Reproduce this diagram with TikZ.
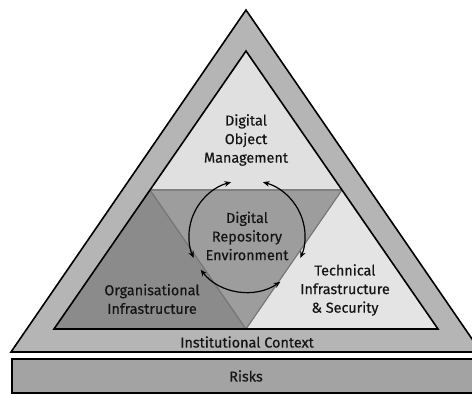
\documentclass[tikz,border=0pt]{standalone}
\usepackage{fontspec}
\setmainfont{Fira Sans}[UprightFeatures={FakeBold=0.35}]
\usetikzlibrary{arrows.meta}
\definecolor{bandgrey}{HTML}{B5B5B5}
\definecolor{topgrey}{HTML}{E0E0E0}
\definecolor{midgrey}{HTML}{9D9D9D}
\definecolor{leftgrey}{HTML}{8B8B8B}
\definecolor{rightgrey}{HTML}{E4E4E4}
\definecolor{riskgrey}{HTML}{A3A3A3}
\definecolor{inkgrey}{HTML}{141414}
\tikzstyle{outline} = [draw=black, line width=1.6pt, line join=miter]
\tikzstyle{seam} = [draw=black!55, line width=1.1pt]
\tikzstyle{txt} = [align=center, text=inkgrey, inner sep=0pt, font=\fontsize{14.4}{18.6}\selectfont]
\tikzstyle{cycle} = [line width=1.2pt, {Stealth[length=6.5pt,width=5.5pt]}-{Stealth[length=6.5pt,width=5.5pt]}]

\begin{document}
\begin{tikzpicture}[x=1pt, y=-1pt]
\useasboundingbox (0,0) rectangle (472,394);
\clip (0,0) rectangle (472,394);

% corners of the pyramid
\coordinate (top) at (246,10);
\coordinate (bl) at (11,352);
\coordinate (br) at (481,352);
\coordinate (a) at (246,51);
\coordinate (b) at (54,329);
\coordinate (c) at (438,329);
\coordinate (ab) at (150,190);
\coordinate (ac) at (342,190);
\coordinate (bc) at (246,329);
\coordinate (centre) at (247,236);

\filldraw [outline, fill=bandgrey] (top) -- (bl) -- (br) -- cycle;
\fill [topgrey] (a) -- (ab) -- (ac) -- cycle;
\fill [leftgrey] (ab) -- (b) -- (bc) -- cycle;
\fill [rightgrey] (ac) -- (bc) -- (c) -- cycle;
\fill [midgrey] (ab) -- (ac) -- (bc) -- cycle;
\draw [seam] (ab) -- (bc) -- (ac);
\draw [seam, line width=1.8pt, draw=black!50] (ab) -- (ac);
\draw [outline] (a) -- (b) -- (c) -- cycle;

\filldraw [outline, fill=riskgrey] (12,359) rectangle (490,393);

% the cycle round the centre
\draw [cycle] (centre) ++(254:58 and 56) arc [start angle=254, end angle=157, x radius=58, y radius=56];
\draw [cycle] (centre) ++(286:58 and 56) arc [start angle=286, end angle=383, x radius=58, y radius=56];
\draw [cycle] (centre) ++(143:58 and 56) arc [start angle=143, end angle=55, x radius=58, y radius=56];

\node (dom) [txt] at (246,140) {Digital\\Object\\Management};
\node (dre) [txt] at (247,236) {Digital\\Repository\\Environment};
\node (org) [txt] at (152,299) {Organisational\\Infrastructure};
\node (tec) [txt] at (345,290) {Technical\\Infrastructure\\\& Security};
\node (inst) [txt] at (247,342) {Institutional Context};
\node (risk) [txt] at (246,376) {Risks};

\end{tikzpicture}
\end{document}
